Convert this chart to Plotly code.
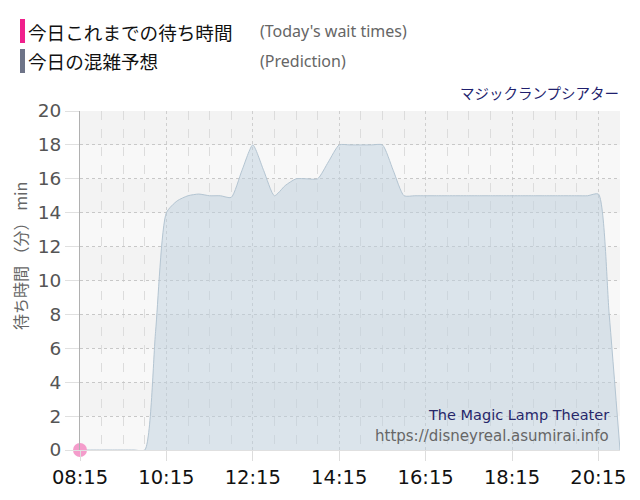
import plotly.graph_objects as go
import pandas as pd

# ---- data ----
DAY = "2024-01-01 "
pred_times = ["08:15", "08:30", "08:45", "09:00", "09:15", "09:30", "09:45", "10:00",
              "10:15", "10:30", "10:45", "11:00", "11:15", "11:30", "11:45", "12:00",
              "12:15", "12:30", "12:45", "13:00", "13:15", "13:30", "13:45", "14:00",
              "14:15", "14:30", "14:45", "15:00", "15:15", "15:30", "15:45", "16:00",
              "16:15", "16:30", "16:45", "17:00", "17:15", "17:30", "17:45", "18:00",
              "18:15", "18:30", "18:45", "19:00", "19:15", "19:30", "19:45", "20:00",
              "20:15", "20:30", "20:45"]
pred_values = [0, 0, 0, 0, 0, 0, 0, 7,
               14, 14.7, 15, 15.1, 15, 15, 14.9, 16.5,
               18, 16.5, 15, 15.6, 16, 16, 16, 17,
               18, 18, 18, 18, 18, 16.5, 15, 15,
               15, 15, 15, 15, 15, 15, 15, 15,
               15, 15, 15, 15, 15, 15, 15, 15,
               15.1, 8, 0]
actual_times = ["08:15"]
actual_values = [0]

y_ticks = [0, 2, 4, 6, 8, 10, 12, 14, 16, 18, 20]
x_start, x_end = "08:15", "20:45"

px = pd.to_datetime([DAY + t for t in pred_times])
ax_ = pd.to_datetime([DAY + t for t in actual_times])

# page body has an 8px margin: figure is sized to fit the 640x500 window
OFF = 8
W, H = 640 - OFF, 500 - OFF
ml, mr, mt, mb = 72, 20, 103, 50
pw, ph = W - ml - mr, H - mt - mb


def pxx(x):  # screenshot x -> paper
    return (x - OFF - ml) / pw


def pxy(y):  # screenshot y -> paper
    return (H - mb - (y - OFF)) / ph


fig = go.Figure()

fig.add_trace(go.Scatter(
    x=px, y=pred_values, mode="lines",
    line=dict(color="#b4c5d2", width=1, shape="spline", smoothing=0.6),
    fill="tozeroy", fillcolor="rgba(190,208,222,0.5)",
    hoverinfo="skip", showlegend=False,
))
fig.add_trace(go.Scatter(
    x=ax_, y=actual_values, mode="markers",
    marker=dict(color="#f49ccb", size=14),
    cliponaxis=False, showlegend=False,
))

# alternating background bands
for i in range(len(y_ticks) - 1):
    lo, hi = y_ticks[i], y_ticks[i + 1]
    col = "#f3f3f3" if i % 2 == 1 else "#f8f8f8"
    fig.add_shape(type="rect", xref="paper", yref="y", x0=0, x1=1, y0=lo, y1=hi,
                  fillcolor=col, line=dict(width=0), layer="below")

legend_rows = [
    ("#f0208c", "今日これまでの待ち時間", "(Today's wait times)", 31),
    ("#6e7488", "今日の混雑予想", "(Prediction)", 61),
]
for col, jp, en, yc in legend_rows:
    fig.add_shape(type="rect", xref="paper", yref="paper",
                  x0=pxx(20), x1=pxx(25), y0=pxy(yc + 12), y1=pxy(yc - 12),
                  fillcolor=col, line=dict(width=0))
    fig.add_annotation(x=pxx(26), y=pxy(yc), xref="paper", yref="paper", text=jp,
                       showarrow=False, xanchor="left", yanchor="middle",
                       font=dict(family="Noto Sans CJK JP", size=18.6, color="#111"))
    fig.add_annotation(x=pxx(258), y=pxy(yc), xref="paper", yref="paper", text=en,
                       showarrow=False, xanchor="left", yanchor="middle",
                       font=dict(family="Noto Sans", size=16, color="#666"))

fig.add_annotation(x=pxx(621), y=pxy(92), xref="paper", yref="paper", text="マジックランプシアター",
                   showarrow=False, xanchor="right", yanchor="middle",
                   font=dict(family="Noto Sans CJK JP", size=14.5, color="#1f1f6e"))
fig.add_annotation(x=pxx(611), y=pxy(415), xref="paper", yref="paper", text="The Magic Lamp Theater",
                   showarrow=False, xanchor="right", yanchor="middle",
                   font=dict(family="DejaVu Sans", size=14.5, color="#27276a"))
fig.add_annotation(x=pxx(611), y=pxy(436), xref="paper", yref="paper",
                   text="https://disneyreal.asumirai.info",
                   showarrow=False, xanchor="right", yanchor="middle",
                   font=dict(family="DejaVu Sans", size=15, color="#666"))
# y-axis title
fig.add_annotation(x=pxx(20), y=pxy(256), xref="paper", yref="paper",
                   text="待ち時間 （分） min", textangle=-90,
                   showarrow=False, xanchor="center", yanchor="middle",
                   font=dict(family="Noto Sans CJK JP", size=16, color="#666"))

fig.update_layout(
    width=W, height=H,
    margin=dict(l=ml, r=mr, t=mt, b=mb, autoexpand=False),
    paper_bgcolor="white", plot_bgcolor="#f8f8f8",
    font=dict(family="DejaVu Sans"),
    xaxis=dict(
        type="date",
        range=[pd.Timestamp(DAY + x_start), pd.Timestamp(DAY + x_end)],
        tick0=pd.Timestamp(DAY + x_start), dtick=2 * 3600 * 1000,
        tickformat="%H:%M",
        tickfont=dict(family="DejaVu Sans", size=19.5, color="#111"),
        ticks="outside", ticklen=10, tickcolor="#dddddd",
        showgrid=True, gridcolor="#cfcfcf", griddash="dot", gridwidth=1,
        minor=dict(dtick=30 * 60 * 1000, tick0=pd.Timestamp(DAY + x_start),
                   showgrid=True, gridcolor="#dcdcdc", griddash="dash", gridwidth=1),
        showline=True, linecolor="#e0e0e0", linewidth=1,
        zeroline=False, fixedrange=True,
    ),
    yaxis=dict(
        range=[0, 20], tickvals=y_ticks,
        tickfont=dict(family="DejaVu Sans", size=18.5, color="#555"),
        ticks="outside", ticklen=14, tickcolor="#e0e0e0",
        showgrid=True, gridcolor="#c8c8c8", griddash="dot", gridwidth=1,
        showline=True, linecolor="#b0b0b0", linewidth=1,
        zeroline=False,
    ),
)

fig.write_html("out.html")
